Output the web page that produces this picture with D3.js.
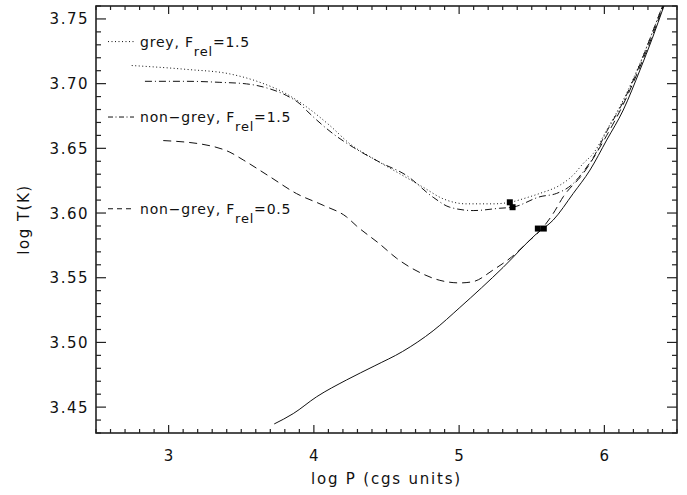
<!DOCTYPE html>
<html>
<head>
<meta charset="utf-8">
<script src="https://cdn.jsdelivr.net/npm/d3@7"></script>
<style>
  body { margin: 0; background: #fff; }
  svg { display: block; }
  text { font-family: "DejaVu Sans", sans-serif; fill: #111; }
</style>
</head>
<body>
<div id="chart"></div>
<script>
// Data: log P vs log T(K)
const solid = [[3.727,3.437],[3.858,3.445],[4.019,3.458],[4.225,3.471],[4.420,3.482],[4.611,3.493],
  [4.821,3.509],[5.005,3.527],[5.303,3.558],[5.533,3.584],[5.648,3.5946],[5.786,3.6152],[5.901,3.6332],
  [6.016,3.6564],[6.13,3.6796],[6.245,3.7105],[6.33,3.735],[6.41,3.76]];

const nonGrey05 = [[2.963,3.656],[3.285,3.652],[3.422,3.647],[3.514,3.641],[3.698,3.628],[3.881,3.615],
  [4.064,3.606],[4.225,3.597],[4.294,3.590],[4.454,3.576],[4.570,3.565],[4.730,3.554],[4.867,3.548],
  [5.005,3.546],[5.097,3.547],[5.234,3.556],[5.361,3.566],[5.487,3.579],[5.563,3.587],[5.648,3.5997],
  [5.717,3.6126],[5.855,3.6307],[6.016,3.660],[6.13,3.684],[6.245,3.713],[6.33,3.737],[6.405,3.76]];

const grey15 = [[2.746,3.714],[3.124,3.711],[3.422,3.7075],[3.629,3.701],[3.812,3.692],[3.904,3.6856],
  [4.110,3.6676],[4.248,3.6535],[4.432,3.6406],[4.592,3.6303],[4.753,3.6199],[4.890,3.611],
  [5.051,3.6071],[5.234,3.6071],[5.349,3.6083],[5.475,3.6122],[5.557,3.6152],[5.695,3.6216],
  [5.786,3.6294],[5.855,3.6384],[5.924,3.6461],[6.016,3.6641],[6.13,3.6873],[6.245,3.7157],
  [6.325,3.738],[6.40,3.76]];

const nonGrey15 = [[2.837,3.7018],[3.124,3.7018],[3.353,3.701],[3.537,3.6998],[3.675,3.6967],
  [3.812,3.6908],[3.904,3.6843],[3.950,3.6792],[4.133,3.6612],[4.271,3.6508],[4.455,3.6392],
  [4.638,3.629],[4.821,3.6122],[4.936,3.6045],[5.097,3.6019],[5.280,3.6037],[5.368,3.6045],
  [5.557,3.6126],[5.672,3.6152],[5.786,3.6229],[5.855,3.632],[5.924,3.643],[6.016,3.663],
  [6.13,3.686],[6.245,3.715],[6.325,3.738],[6.40,3.76]];

// filled markers on the curves
const marks = [[5.349,3.6083],[5.368,3.6045],[5.542,3.588],[5.583,3.588]];

const xTicks = [3, 4, 5, 6];
const yTicks = [3.45, 3.50, 3.55, 3.60, 3.65, 3.70, 3.75];

const legend = [
  {label: "grey, ", sub: "rel", val: "=1.5", dash: "1,2.5", y: 3.7325},
  {label: "non\u2212grey, ", sub: "rel", val: "=1.5", dash: "5,2.5,1,2.5", y: 3.6742},
  {label: "non\u2212grey, ", sub: "rel", val: "=0.5", dash: "5,4", y: 3.6033}
];

const W = 687, H = 495;
const m = {left: 96, right: 10, top: 6, bottom: 62};

const x = d3.scaleLinear().domain([2.5, 6.5]).range([m.left, W - m.right]);
const y = d3.scaleLinear().domain([3.43, 3.76]).range([H - m.bottom, m.top]);

const svg = d3.select("#chart").append("svg")
  .attr("width", W).attr("height", H);

svg.append("clipPath").attr("id", "clip")
  .append("rect")
  .attr("x", m.left).attr("y", m.top)
  .attr("width", W - m.left - m.right).attr("height", H - m.top - m.bottom);

// axes: ticks drawn inward on all four sides
const xMinor = d3.range(2.5, 6.51, 0.1).map(v => +v.toFixed(2));
const yMinor = d3.range(3.43, 3.761, 0.01).map(v => +v.toFixed(3));

const axisG = svg.append("g").attr("stroke", "#222").attr("stroke-width", 1.2);

function tickLines(vals, fn) {
  axisG.append("g").selectAll("line").data(vals).join("line").each(fn);
}

const yb = H - m.bottom, yt = m.top, xl = m.left, xr = W - m.right;
tickLines(xMinor, function(d) {
  const len = xTicks.includes(d) ? 8 : 4;
  d3.select(this).attr("x1", x(d)).attr("x2", x(d)).attr("y1", yb).attr("y2", yb - len);
});
tickLines(xMinor, function(d) {
  const len = xTicks.includes(d) ? 8 : 4;
  d3.select(this).attr("x1", x(d)).attr("x2", x(d)).attr("y1", yt).attr("y2", yt + len);
});
tickLines(yMinor, function(d) {
  const len = yTicks.some(t => Math.abs(t - d) < 1e-6) ? 10 : 5;
  d3.select(this).attr("x1", xl).attr("x2", xl + len).attr("y1", y(d)).attr("y2", y(d));
});
tickLines(yMinor, function(d) {
  const len = yTicks.some(t => Math.abs(t - d) < 1e-6) ? 10 : 5;
  d3.select(this).attr("x1", xr).attr("x2", xr - len).attr("y1", y(d)).attr("y2", y(d));
});

axisG.append("rect")
  .attr("x", xl).attr("y", yt).attr("width", xr - xl).attr("height", yb - yt)
  .attr("fill", "none").attr("stroke-width", 1.6);

// tick labels
svg.append("g").selectAll("text").data(xTicks).join("text")
  .attr("x", d => x(d)).attr("y", yb + 28)
  .attr("text-anchor", "middle")
  .style("font-size", "15px")
  .text(d => d);

svg.append("g").selectAll("text").data(yTicks).join("text")
  .attr("x", xl - 7).attr("y", d => y(d) + 5.5)
  .attr("text-anchor", "end")
  .style("font-size", "15px").style("letter-spacing", "1.5px")
  .text(d => d.toFixed(2));

// axis titles
svg.append("text")
  .attr("x", (xl + xr) / 2).attr("y", yb + 51)
  .attr("text-anchor", "middle")
  .style("font-size", "15px").style("letter-spacing", "1.8px")
  .text("log P (cgs units)");

svg.append("text")
  .attr("transform", `translate(29,${(yt + yb) / 2}) rotate(-90)`)
  .attr("text-anchor", "middle")
  .style("font-size", "15px").style("letter-spacing", "1.5px")
  .text("log T(K)");

// curves
const line = d3.line().x(d => x(d[0])).y(d => y(d[1])).curve(d3.curveMonotoneX);
const curves = [
  {data: solid, dash: null},
  {data: nonGrey05, dash: "8,5"},
  {data: grey15, dash: "1,2.5"},
  {data: nonGrey15, dash: "7,3,1,3"}
];
svg.append("g").attr("clip-path", "url(#clip)")
  .selectAll("path").data(curves).join("path")
  .attr("d", d => line(d.data))
  .attr("fill", "none").attr("stroke", "#111").attr("stroke-width", 1)
  .attr("stroke-dasharray", d => d.dash);

svg.append("g").selectAll("rect").data(marks).join("rect")
  .attr("x", d => x(d[0]) - 3).attr("y", d => y(d[1]) - 3)
  .attr("width", 6).attr("height", 6).attr("fill", "#000");

// legend
const lg = svg.append("g");
legend.forEach(l => {
  const yy = y(l.y);
  lg.append("line")
    .attr("x1", 108).attr("x2", 134).attr("y1", yy).attr("y2", yy)
    .attr("stroke", "#111").attr("stroke-width", 1).attr("stroke-dasharray", l.dash);
  const t = lg.append("text").attr("x", 140).attr("y", yy + 5)
    .style("font-size", "14px").style("letter-spacing", "0.8px");
  t.append("tspan").text(l.label + "F");
  t.append("tspan").attr("dy", 9).style("font-size", "13px").text(l.sub);
  t.append("tspan").attr("dy", -9).text(l.val);
});
</script>
</body>
</html>
